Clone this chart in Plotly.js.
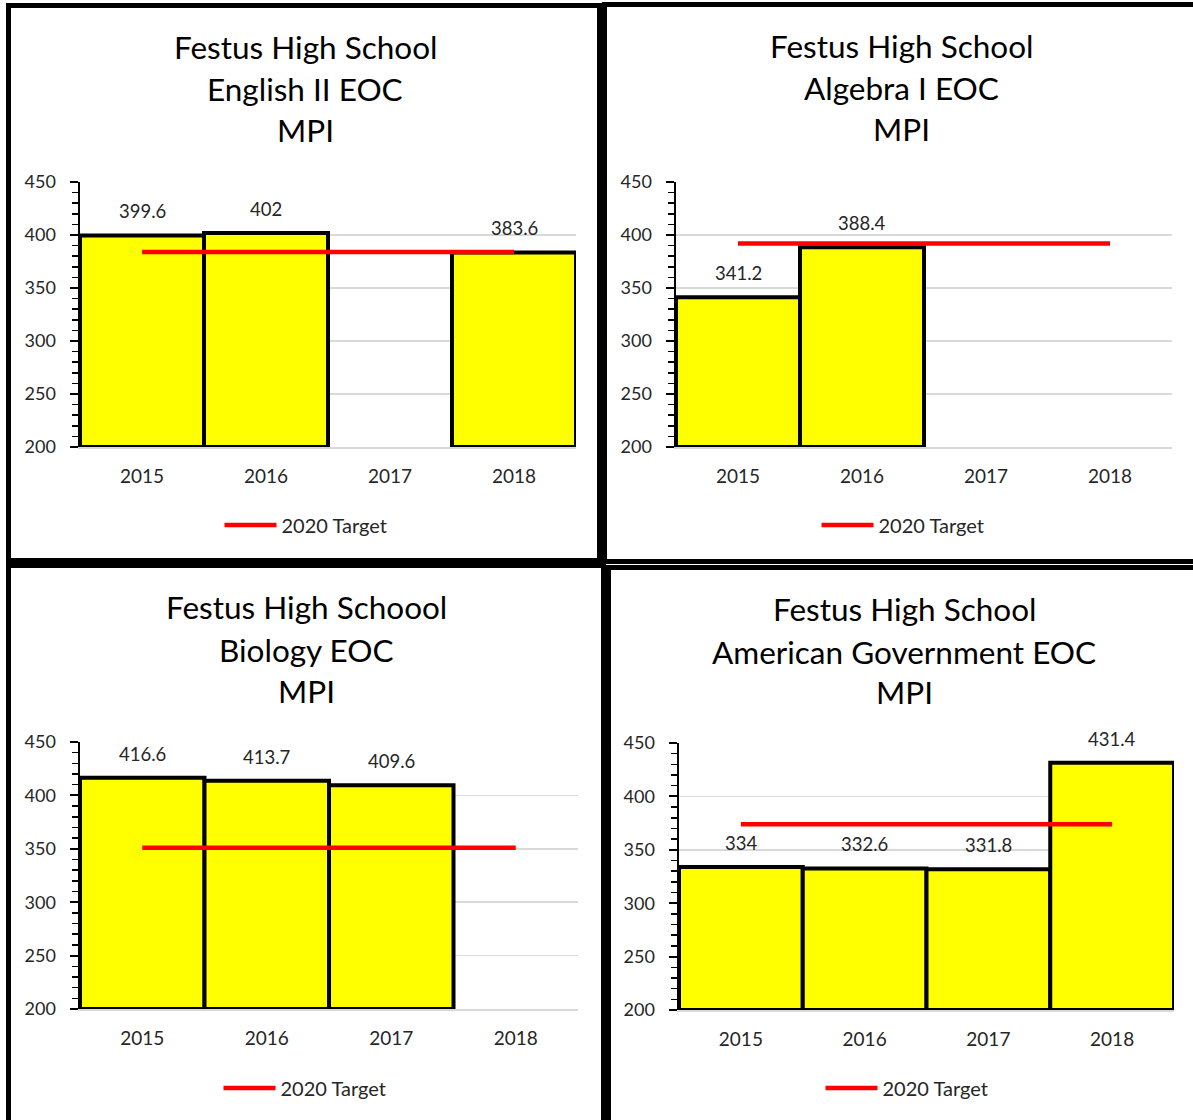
<!DOCTYPE html>
<html>
<head>
<meta charset="utf-8">
<script src="https://cdn.plot.ly/plotly-3.0.1.min.js"></script>
<style>
html, body { margin:0; padding:0; overflow:hidden; background:#fff; width:1193px; height:1120px; }
.panel { position:absolute; box-sizing:border-box; border:5px solid #000; background:#fff; overflow:hidden; }
.panel > div { position:absolute; left:0; top:0; }
</style>
</head>
<body>
<div class="panel" style="left:6px;top:3px;width:596px;height:560px"><div id="c1"></div></div>
<div class="panel" style="left:602px;top:2px;width:600px;height:562px"><div id="c2"></div></div>
<div class="panel" style="left:6px;top:563px;width:600px;height:570px"><div id="c3"></div></div>
<div class="panel" style="left:606px;top:565px;width:600px;height:570px"><div id="c4"></div></div>
<script>
// ---------- DATA ----------
const years = ['2015', '2016', '2017', '2018'];

const englishTitle = ['Festus High School', 'English II EOC', 'MPI'];
const englishMPI = [399.6, 402, null, 383.6];
const englishTarget = [384, 384, 384, 384];

const algebraTitle = ['Festus High School', 'Algebra I EOC', 'MPI'];
const algebraMPI = [341.2, 388.4, null, null];
const algebraTarget = [392, 392, 392, 392];

const biologyTitle = ['Festus High Schoool', 'Biology EOC', 'MPI'];
const biologyMPI = [416.6, 413.7, 409.6, null];
const biologyTarget = [351, 351, 351, 351];

const govTitle = ['Festus High School', 'American Government EOC', 'MPI'];
const govMPI = [334, 332.6, 331.8, 431.4];
const govTarget = [374, 374, 374, 374];

const targetName = '2020 Target';
const yTickVals = [200, 250, 300, 350, 400, 450];

// ---------- STYLE / LAYOUT ----------
const FONT = 'Lato, "Open Sans", sans-serif';
const AXIS_MIN = 200, AXIS_MAX = 450;

function makeChart(divId, box, titleLines, values, target) {
  const W = box.W, H = box.H;
  const l = box.l, t = box.t, pw = box.pw, ph = box.ph;
  const r = W - l - pw, b = H - t - ph;

  const bars = {
    type: 'bar',
    x: years,
    y: values.map(v => v == null ? null : v - AXIS_MIN),
    base: AXIS_MIN,
    marker: { color: '#FFFF00', line: { color: '#000000', width: 4 } },
    showlegend: false,
    hoverinfo: 'skip'
  };
  const line = {
    type: 'scatter',
    mode: 'lines',
    name: targetName,
    x: years,
    y: target,
    line: { color: '#FF0000', width: 4.5 },
    showlegend: true,
    hoverinfo: 'skip'
  };

  const annotations = [];
  titleLines.forEach((txt, i) => {
    annotations.push({
      text: txt, showarrow: false,
      xref: 'paper', yref: 'paper', x: 0.5, y: 1,
      xanchor: 'center', yanchor: 'middle',
      xshift: (r - l) / 2 + (box.tdx || 0), yshift: t - box.titleY[i],
      font: { family: FONT, size: 31.5, color: '#000' }
    });
  });
  values.forEach((v, i) => {
    if (v == null) return;
    annotations.push({
      text: String(v), showarrow: false,
      xref: 'x', yref: 'y', x: i, y: v,
      xanchor: 'center', yanchor: 'middle', yshift: 24,
      font: { family: FONT, size: 18.5, color: '#262626' }
    });
  });

  const layout = {
    width: W, height: H,
    margin: { l: l, r: r, t: t, b: b, pad: 0 },
    paper_bgcolor: '#fff', plot_bgcolor: '#fff',
    bargap: 0,
    font: { family: FONT, color: '#262626' },
    xaxis: {
      type: 'category', range: [-0.5, 3.5], fixedrange: true,
      showline: true, linecolor: '#d9d9d9', linewidth: 1.5,
      showgrid: false, ticks: '', ticklabelstandoff: 12,
      tickfont: { family: FONT, size: 19, color: '#262626' }
    },
    yaxis: {
      range: [AXIS_MIN, AXIS_MAX], fixedrange: true,
      tickvals: yTickVals,
      showline: true, linecolor: '#000', linewidth: 2.5,
      ticks: 'outside', ticklen: 8, tickwidth: 2, tickcolor: '#000',
      ticklabelstandoff: 10,
      showgrid: true, gridcolor: '#d9d9d9', gridwidth: 1.5, zeroline: false,
      minor: { dtick: 10, ticks: 'outside', ticklen: 6, tickwidth: 1.5, tickcolor: '#000', showgrid: false },
      tickfont: { family: FONT, size: 18, color: '#262626' }
    },
    legend: {
      orientation: 'h', xref: 'container', yref: 'container',
      x: box.legX / W, y: 1 - box.legY / H, xanchor: 'center', yanchor: 'middle',
      font: { family: FONT, size: 20, color: '#262626' },
      itemwidth: 52, bgcolor: 'rgba(0,0,0,0)'
    },
    annotations: annotations
  };
  Plotly.newPlot(divId, [bars, line], layout, { staticPlot: true, displayModeBar: false });
}

makeChart('c1', { W: 586, H: 550, l: 69, t: 174, pw: 496, ph: 265, titleY: [39, 81, 122], legX: 295, legY: 517, tdx: 1 },
  englishTitle, englishMPI, englishTarget);
makeChart('c2', { W: 590, H: 552, l: 69, t: 175, pw: 496, ph: 265, titleY: [39, 81, 122], legX: 296, legY: 518, tdx: -1 },
  algebraTitle, algebraMPI, algebraTarget);
makeChart('c3', { W: 590, H: 560, l: 69, t: 174, pw: 498, ph: 267, titleY: [39, 82, 123], legX: 294, legY: 520, tdx: 0 },
  biologyTitle, biologyMPI, biologyTarget);
makeChart('c4', { W: 590, H: 560, l: 68, t: 173, pw: 495, ph: 267, titleY: [39, 82, 122], legX: 296, legY: 518, tdx: -2 },
  govTitle, govMPI, govTarget);
</script>
</body>
</html>
